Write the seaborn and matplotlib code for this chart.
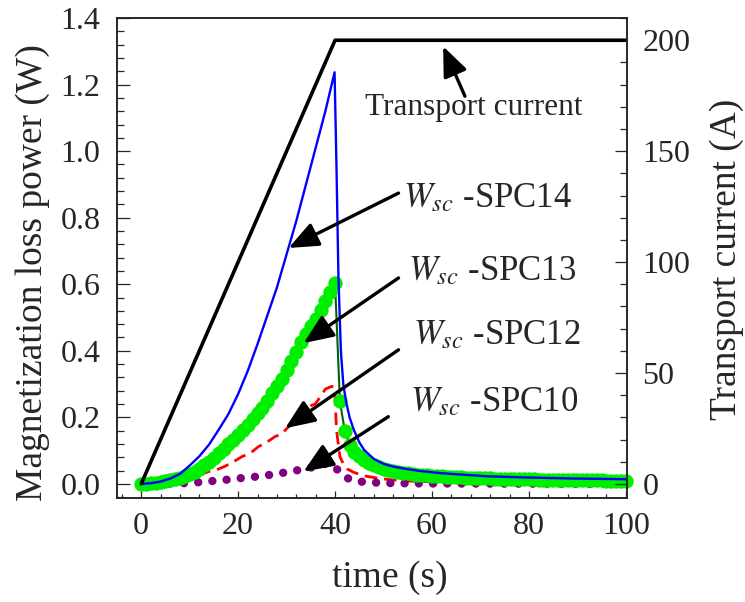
import matplotlib
matplotlib.use("Agg")
import matplotlib.pyplot as plt
from matplotlib.ticker import MultipleLocator
import seaborn as sns

# --- data ---
t_current = [0, 40, 100]
current = [0, 200, 200]

t_spc14 = [0, 2, 4, 6, 8, 10, 12, 14, 16, 18, 20, 22, 24, 26, 28, 30, 32, 34, 36, 38, 39.9,
           40.3, 40.7, 41.2, 41.7, 42.3, 43.0, 43.8, 45, 46, 48, 50, 52, 55, 58, 62, 66, 71, 80, 90, 100]
w_spc14 = [0.0, 0.002, 0.007, 0.016, 0.030, 0.055, 0.083, 0.118, 0.163, 0.21, 0.27, 0.34, 0.42, 0.505,
           0.59, 0.69, 0.79, 0.90, 1.01, 1.12, 1.237,
           0.95, 0.62, 0.40, 0.30, 0.245, 0.20, 0.165, 0.125, 0.102, 0.075, 0.06, 0.052, 0.044, 0.038,
           0.032, 0.028, 0.023, 0.019, 0.016, 0.014]

t_spc13 = list(range(0, 101))
w_spc13 = [0.000, 0.000, 0.002, 0.004, 0.006, 0.009, 0.012, 0.015, 0.019, 0.023,
           0.029, 0.036, 0.046, 0.057, 0.067, 0.079, 0.092, 0.105, 0.119, 0.132,
           0.147, 0.162, 0.177, 0.195, 0.212, 0.229, 0.248, 0.272, 0.293, 0.315,
           0.341, 0.368, 0.396, 0.425, 0.450, 0.475, 0.497, 0.522, 0.550, 0.578,
           0.604, 0.248, 0.160, 0.118, 0.097, 0.083, 0.072, 0.064, 0.057, 0.051,
           0.046, 0.042, 0.039, 0.036, 0.034, 0.032, 0.030, 0.028, 0.027, 0.026,
           0.025, 0.024, 0.023, 0.022, 0.021, 0.021, 0.020, 0.019, 0.019, 0.018,
           0.018, 0.017, 0.017, 0.016, 0.016, 0.016, 0.015, 0.015, 0.015, 0.014,
           0.014, 0.014, 0.013, 0.013, 0.013, 0.013, 0.012, 0.012, 0.012, 0.012,
           0.012, 0.011, 0.011, 0.011, 0.011, 0.011, 0.010, 0.010, 0.010, 0.010,
           0.010]

t_spc12 = [0, 3, 5, 7, 9, 10.5, 12, 13.9, 15.5, 17.3, 19, 20.8, 22.5, 24.2, 26, 27.6, 29, 30.4,
           32, 33.1, 34.5, 35.9, 37, 38, 39.3, 39.9, 40.3, 41, 41.7, 42.5, 43.8, 46, 49.3, 53,
           57.5, 65, 75, 100]
w_spc12 = [0.0, 0.0, 0.003, 0.006, 0.012, 0.018, 0.026, 0.037, 0.042, 0.053, 0.066, 0.082, 0.092,
           0.112, 0.126, 0.142, 0.150, 0.172, 0.200, 0.230, 0.232, 0.240, 0.262, 0.285, 0.293, 0.290,
           0.162, 0.082, 0.060, 0.045, 0.035, 0.024, 0.016, 0.010, 0.007, 0.004, 0.003, 0.002]

t_spc10 = [0, 3, 6, 9, 12, 15, 18, 21, 24, 27, 30, 33, 36, 38.5, 40, 41, 42, 43, 45, 48, 52, 60, 100]
w_spc10 = [0.0, 0.0, 0.001, 0.002, 0.005, 0.009, 0.013, 0.018, 0.022, 0.028, 0.035, 0.043, 0.052,
           0.062, 0.050, 0.035, 0.022, 0.014, 0.007, 0.004, 0.002, 0.001, 0.0]

labels = ["SPC14", "SPC13", "SPC12", "SPC10"]
# text centre, arrow tail, arrow head (left-axis data units)
text_pos = [(71.5, 0.857), (72.4, 0.638), (73.4, 0.445), (72.8, 0.244)]
arrow_tail = [(53.1, 0.874), (53.1, 0.619), (53.1, 0.403), (51.0, 0.202)]
arrow_head = [(30.4, 0.709), (33.5, 0.423), (29.7, 0.167), (33.5, 0.037)]

sns.set_style("ticks")
plt.rcParams["font.family"] = ["Liberation Serif", "DejaVu Serif"]
plt.rcParams["mathtext.fontset"] = "stix"

fig = plt.figure(figsize=(7.45, 6.02), dpi=100)
ax = fig.add_axes([0.157, 0.173, 0.685, 0.797])
ax2 = ax.twinx()

sns.lineplot(x=t_spc12, y=w_spc12, ax=ax, color="#ff0000", lw=2.0,
             linestyle=(0, (4.5, 2.5)), errorbar=None)
sns.lineplot(x=t_spc10, y=w_spc10, ax=ax, color="#800080", lw=6.0,
             linestyle=(0, (0.01, 1.7)), dash_capstyle="round", errorbar=None)
sns.lineplot(x=t_spc13, y=w_spc13, ax=ax, color="#006400", lw=1.5, marker="o",
             markersize=9.5, markerfacecolor="#00ee00", markeredgecolor="#00ee00",
             markeredgewidth=0.8, errorbar=None, clip_on=False)
sns.lineplot(x=t_spc14, y=w_spc14, ax=ax, color="#0000ff", lw=1.7, errorbar=None)
sns.lineplot(x=t_current, y=current, ax=ax2, color="black", lw=2.6, errorbar=None)

ax.set_xlim(-5, 100.3)
ax.set_ylim(-0.042, 1.4)
ax2.set_ylim(-6.3, 210)

ax.xaxis.set_major_locator(MultipleLocator(20))
ax.xaxis.set_minor_locator(MultipleLocator(4))
ax.yaxis.set_major_locator(MultipleLocator(0.2))
ax.yaxis.set_minor_locator(MultipleLocator(0.04))
ax2.yaxis.set_major_locator(MultipleLocator(50))
ax2.yaxis.set_minor_locator(MultipleLocator(10))
ax.yaxis.set_major_formatter(plt.FormatStrFormatter("%.1f"))

ax.tick_params(axis="y", which="major", direction="in", length=9, width=0.9, pad=12, labelsize=23)
ax.tick_params(axis="y", which="minor", direction="in", length=5, width=0.9)
ax.tick_params(axis="x", which="major", direction="in", length=5, width=0.9, pad=10, labelsize=23)
ax.tick_params(axis="x", which="minor", direction="in", length=3, width=0.9)
ax2.tick_params(axis="y", which="major", direction="in", length=9, width=0.9, pad=11, labelsize=23)
ax2.tick_params(axis="y", which="minor", direction="in", length=5, width=0.9)

for a in (ax, ax2):
    for s in a.spines.values():
        s.set_visible(True)
        s.set_linewidth(1.1)
        s.set_color("#222222")

ax.set_xlabel("time (s)", fontsize=27)
ax.set_ylabel("Magnetization loss power (W)", fontsize=27)
ax2.set_ylabel("Transport current (A)", fontsize=27)
ax.xaxis.set_label_coords(0.535, -0.13)
ax.yaxis.set_label_coords(-0.131, 0.47)
ax2.yaxis.set_label_coords(1.161, 0.497)

arrow = dict(arrowstyle="-|>,head_length=0.65,head_width=0.27", mutation_scale=28,
             lw=2.4, color="black", shrinkA=0, shrinkB=0)

ax.text(68.7, 1.131, "Transport current", fontsize=22.5, ha="center", va="center")
ax.annotate("", xy=(62.3, 1.315), xytext=(66.8, 1.165), arrowprops=arrow)

for name, tp, tail, head in zip(labels, text_pos, arrow_tail, arrow_head):
    ax.text(tp[0], tp[1], r"$W_{sc}$ -" + name, fontsize=25, ha="center", va="center")
    ax.annotate("", xy=head, xytext=tail, arrowprops=arrow)

fig.savefig("out.png", dpi=100)
